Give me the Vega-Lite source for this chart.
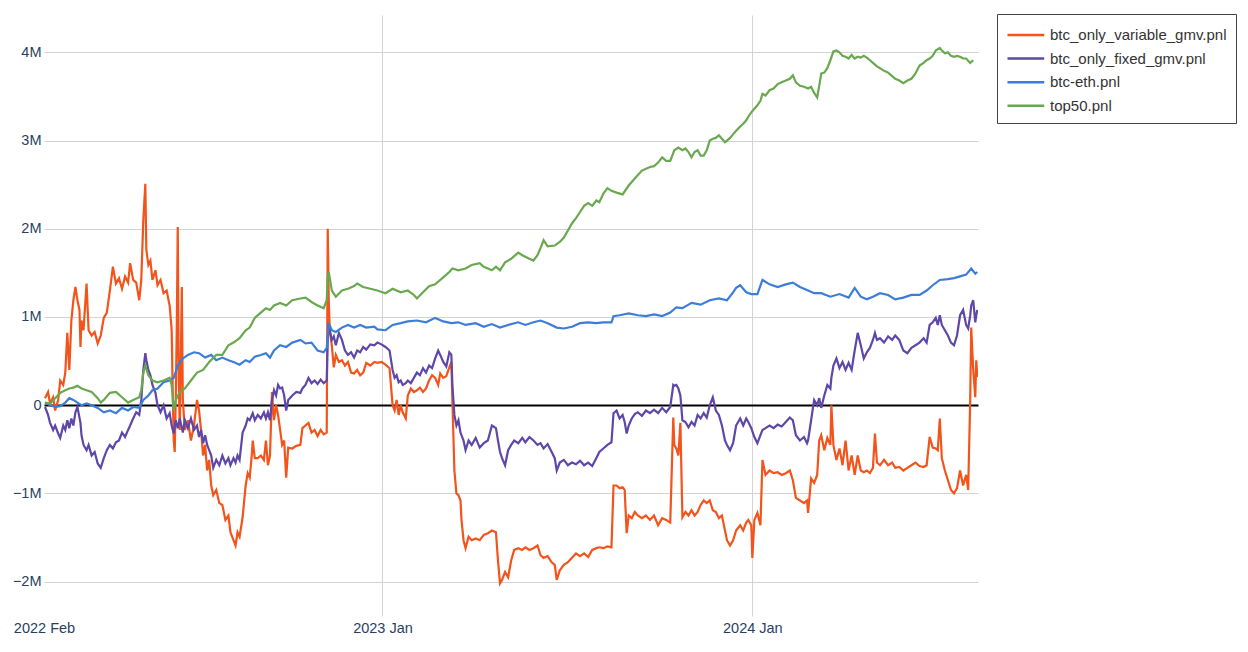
{
  "$schema": "https://vega.github.io/schema/vega-lite/v6.json",
  "width": 934,
  "height": 601,
  "autosize": {"type": "none"},
  "padding": {"left": 44, "top": 15, "right": 270, "bottom": 36},
  "background": "white",
  "config": {
    "view": {"stroke": null},
    "font": "Liberation Sans",
    "legend": {
      "orient": "none",
      "legendX": 953,
      "legendY": -1,
      "strokeColor": "#444444",
      "strokeWidth": 1,
      "fillColor": "white",
      "padding": 9,
      "labelFont": "Liberation Sans",
      "labelFontSize": 15,
      "labelColor": "#333333",
      "labelLimit": 400,
      "symbolType": "M-1,0H2.5",
      "symbolSize": 441,
      "symbolStrokeWidth": 2.5,
      "labelOffset": 20,
      "rowPadding": 3.6
    }
  },
  "encoding": {
    "x": {
      "field": "d",
      "type": "temporal",
      "scale": {"type": "utc", "domain": [1643673600000, 1723308000000]},
      "axis": {
        "title": null,
        "values": [1643673600000, 1672531200000, 1704067200000],
        "format": "%Y %b",
        "labelFont": "Liberation Sans",
        "labelFontSize": 14.5,
        "labelColor": "#2a3f5f",
        "labelFlush": false,
        "labelOverlap": false,
        "labelBound": false,
        "labelPadding": 5,
        "domain": false,
        "ticks": false,
        "grid": true,
        "gridColor": "#d3d3d3",
        "gridWidth": 1,
        "gridOpacity": {"condition": {"test": "utcmonth(datum.value) == 1", "value": 0}, "value": 1}
      }
    },
    "y": {
      "field": "v",
      "type": "quantitative",
      "scale": {"domain": [-2389000, 4423000], "nice": false, "zero": false},
      "axis": {
        "title": null,
        "values": [-2000000, -1000000, 0, 1000000, 2000000, 3000000, 4000000],
        "format": "~s",
        "labelExpr": "datum.value === 0 ? '0' : datum.label",
        "labelFont": "Liberation Sans",
        "labelFontSize": 14.5,
        "labelColor": "#2a3f5f",
        "labelPadding": 3,
        "domain": false,
        "ticks": false,
        "grid": true,
        "gridColor": {"condition": {"test": "datum.value === 0", "value": "#000000"}, "value": "#d3d3d3"},
        "gridWidth": {"condition": {"test": "datum.value === 0", "value": 2}, "value": 1}
      }
    }
  },
  "layer": [
    {
      "data": {"values": [
        {"d":"2022-02-02","v":80000},{"d":"2022-02-05","v":150000},{"d":"2022-02-07","v":20000},{"d":"2022-02-10","v":90000},{"d":"2022-02-12","v":-60000},{"d":"2022-02-15","v":60000},{"d":"2022-02-17","v":280000},{"d":"2022-02-20","v":230000},{"d":"2022-02-22","v":370000},{"d":"2022-02-24","v":820000},{"d":"2022-02-26","v":400000},{"d":"2022-02-28","v":960000},
        {"d":"2022-03-02","v":1190000},{"d":"2022-03-04","v":1340000},{"d":"2022-03-06","v":1190000},{"d":"2022-03-08","v":1080000},{"d":"2022-03-09","v":660000},{"d":"2022-03-10","v":960000},{"d":"2022-03-12","v":850000},{"d":"2022-03-15","v":1380000},{"d":"2022-03-17","v":850000},{"d":"2022-03-20","v":790000},{"d":"2022-03-23","v":830000},{"d":"2022-03-26","v":700000},{"d":"2022-03-29","v":790000},
        {"d":"2022-04-01","v":990000},{"d":"2022-04-04","v":1050000},{"d":"2022-04-07","v":1300000},{"d":"2022-04-10","v":1570000},{"d":"2022-04-13","v":1380000},{"d":"2022-04-16","v":1440000},{"d":"2022-04-19","v":1320000},{"d":"2022-04-22","v":1460000},{"d":"2022-04-25","v":1390000},{"d":"2022-04-27","v":1610000},{"d":"2022-04-30","v":1420000},
        {"d":"2022-05-03","v":1390000},{"d":"2022-05-06","v":1190000},{"d":"2022-05-08","v":1420000},{"d":"2022-05-10","v":2100000},{"d":"2022-05-12","v":2510000},{"d":"2022-05-13","v":1760000},{"d":"2022-05-15","v":1590000},{"d":"2022-05-17","v":1640000},{"d":"2022-05-19","v":1420000},{"d":"2022-05-22","v":1530000},{"d":"2022-05-24","v":1360000},{"d":"2022-05-27","v":1420000},{"d":"2022-05-30","v":1270000},
        {"d":"2022-06-02","v":1300000},{"d":"2022-06-05","v":1130000},{"d":"2022-06-07","v":850000},{"d":"2022-06-08","v":170000},{"d":"2022-06-09","v":-400000},{"d":"2022-06-10","v":-530000},{"d":"2022-06-11","v":60000},{"d":"2022-06-12","v":850000},{"d":"2022-06-13","v":2020000},{"d":"2022-06-14","v":280000},{"d":"2022-06-15","v":-280000},{"d":"2022-06-16","v":510000},{"d":"2022-06-17","v":1340000},{"d":"2022-06-18","v":60000},{"d":"2022-06-20","v":-280000},{"d":"2022-06-23","v":-170000},{"d":"2022-06-26","v":-400000},{"d":"2022-06-29","v":-230000},
        {"d":"2022-07-02","v":60000},{"d":"2022-07-04","v":-60000},{"d":"2022-07-06","v":-280000},{"d":"2022-07-08","v":-570000},{"d":"2022-07-10","v":-450000},{"d":"2022-07-12","v":-740000},{"d":"2022-07-14","v":-620000},{"d":"2022-07-16","v":-910000},{"d":"2022-07-18","v":-1020000},{"d":"2022-07-21","v":-960000},{"d":"2022-07-24","v":-1110000},{"d":"2022-07-27","v":-1130000},{"d":"2022-07-30","v":-1300000},
        {"d":"2022-08-02","v":-1250000},{"d":"2022-08-04","v":-1440000},{"d":"2022-08-07","v":-1530000},{"d":"2022-08-09","v":-1590000},{"d":"2022-08-11","v":-1440000},{"d":"2022-08-13","v":-1490000},{"d":"2022-08-16","v":-1270000},{"d":"2022-08-19","v":-910000},{"d":"2022-08-21","v":-770000},{"d":"2022-08-23","v":-820000},{"d":"2022-08-25","v":-570000},{"d":"2022-08-26","v":-400000},{"d":"2022-08-28","v":-600000},{"d":"2022-08-31","v":-600000},
        {"d":"2022-09-03","v":-570000},{"d":"2022-09-06","v":-620000},{"d":"2022-09-08","v":-400000},{"d":"2022-09-10","v":-680000},{"d":"2022-09-12","v":-570000},{"d":"2022-09-14","v":150000},{"d":"2022-09-16","v":-170000},{"d":"2022-09-18","v":0},{"d":"2022-09-20","v":-110000},{"d":"2022-09-22","v":-280000},{"d":"2022-09-24","v":-450000},{"d":"2022-09-26","v":-400000},{"d":"2022-09-28","v":-820000},{"d":"2022-09-30","v":-480000},
        {"d":"2022-10-04","v":-490000},{"d":"2022-10-08","v":-460000},{"d":"2022-10-12","v":-450000},{"d":"2022-10-14","v":-260000},{"d":"2022-10-17","v":-230000},{"d":"2022-10-20","v":-200000},{"d":"2022-10-23","v":-310000},{"d":"2022-10-26","v":-280000},{"d":"2022-10-29","v":-350000},
        {"d":"2022-11-01","v":-280000},{"d":"2022-11-04","v":-330000},{"d":"2022-11-07","v":-310000},{"d":"2022-11-08","v":2000000},{"d":"2022-11-09","v":1190000},{"d":"2022-11-10","v":850000},{"d":"2022-11-12","v":680000},{"d":"2022-11-14","v":430000},{"d":"2022-11-16","v":570000},{"d":"2022-11-19","v":490000},{"d":"2022-11-22","v":510000},{"d":"2022-11-25","v":450000},{"d":"2022-11-28","v":490000},
        {"d":"2022-12-01","v":370000},{"d":"2022-12-04","v":360000},{"d":"2022-12-07","v":400000},{"d":"2022-12-10","v":340000},{"d":"2022-12-13","v":370000},{"d":"2022-12-16","v":480000},{"d":"2022-12-20","v":450000},{"d":"2022-12-24","v":490000},{"d":"2022-12-27","v":480000},{"d":"2022-12-31","v":490000},
        {"d":"2023-01-04","v":460000},{"d":"2023-01-08","v":420000},{"d":"2023-01-11","v":0},{"d":"2023-01-13","v":-60000},{"d":"2023-01-15","v":60000},{"d":"2023-01-17","v":-110000},{"d":"2023-01-19","v":0},{"d":"2023-01-21","v":-80000},{"d":"2023-01-24","v":-150000},{"d":"2023-01-26","v":110000},{"d":"2023-01-29","v":190000},
        {"d":"2023-02-01","v":150000},{"d":"2023-02-04","v":170000},{"d":"2023-02-07","v":200000},{"d":"2023-02-10","v":150000},{"d":"2023-02-13","v":190000},{"d":"2023-02-16","v":280000},{"d":"2023-02-19","v":340000},{"d":"2023-02-22","v":310000},{"d":"2023-02-25","v":230000},{"d":"2023-02-27","v":360000},
        {"d":"2023-03-02","v":310000},{"d":"2023-03-05","v":330000},{"d":"2023-03-08","v":430000},{"d":"2023-03-10","v":490000},{"d":"2023-03-11","v":60000},{"d":"2023-03-13","v":-740000},{"d":"2023-03-15","v":-1000000},{"d":"2023-03-17","v":-1020000},{"d":"2023-03-19","v":-1080000},{"d":"2023-03-20","v":-1300000},{"d":"2023-03-22","v":-1530000},{"d":"2023-03-24","v":-1620000},{"d":"2023-03-27","v":-1490000},{"d":"2023-03-30","v":-1530000},
        {"d":"2023-04-03","v":-1510000},{"d":"2023-04-07","v":-1530000},{"d":"2023-04-11","v":-1470000},{"d":"2023-04-15","v":-1450000},{"d":"2023-04-19","v":-1420000},{"d":"2023-04-23","v":-1440000},{"d":"2023-04-25","v":-1760000},{"d":"2023-04-27","v":-2020000},{"d":"2023-04-29","v":-1980000},
        {"d":"2023-05-02","v":-1890000},{"d":"2023-05-05","v":-1950000},{"d":"2023-05-08","v":-1760000},{"d":"2023-05-11","v":-1640000},{"d":"2023-05-15","v":-1620000},{"d":"2023-05-19","v":-1640000},{"d":"2023-05-22","v":-1610000},{"d":"2023-05-26","v":-1640000},{"d":"2023-05-30","v":-1620000},
        {"d":"2023-06-03","v":-1590000},{"d":"2023-06-06","v":-1700000},{"d":"2023-06-09","v":-1730000},{"d":"2023-06-13","v":-1710000},{"d":"2023-06-17","v":-1780000},{"d":"2023-06-20","v":-1810000},{"d":"2023-06-22","v":-1980000},{"d":"2023-06-25","v":-1870000},{"d":"2023-06-29","v":-1810000},
        {"d":"2023-07-03","v":-1780000},{"d":"2023-07-07","v":-1730000},{"d":"2023-07-11","v":-1680000},{"d":"2023-07-15","v":-1710000},{"d":"2023-07-19","v":-1680000},{"d":"2023-07-23","v":-1720000},{"d":"2023-07-27","v":-1640000},{"d":"2023-07-31","v":-1620000},
        {"d":"2023-08-03","v":-1610000},{"d":"2023-08-07","v":-1620000},{"d":"2023-08-11","v":-1600000},{"d":"2023-08-15","v":-1610000},{"d":"2023-08-17","v":-910000},{"d":"2023-08-20","v":-910000},{"d":"2023-08-23","v":-940000},{"d":"2023-08-26","v":-930000},{"d":"2023-08-28","v":-960000},{"d":"2023-08-30","v":-1450000},
        {"d":"2023-09-01","v":-1250000},{"d":"2023-09-04","v":-1280000},{"d":"2023-09-07","v":-1210000},{"d":"2023-09-10","v":-1250000},{"d":"2023-09-14","v":-1280000},{"d":"2023-09-18","v":-1250000},{"d":"2023-09-22","v":-1300000},{"d":"2023-09-26","v":-1250000},{"d":"2023-09-30","v":-1360000},
        {"d":"2023-10-04","v":-1280000},{"d":"2023-10-08","v":-1300000},{"d":"2023-10-12","v":-1330000},{"d":"2023-10-15","v":-140000},{"d":"2023-10-16","v":-450000},{"d":"2023-10-18","v":-490000},{"d":"2023-10-20","v":-570000},{"d":"2023-10-22","v":-200000},{"d":"2023-10-24","v":-1270000},{"d":"2023-10-27","v":-1210000},{"d":"2023-10-30","v":-1250000},
        {"d":"2023-11-02","v":-1190000},{"d":"2023-11-05","v":-1250000},{"d":"2023-11-08","v":-1210000},{"d":"2023-11-11","v":-1130000},{"d":"2023-11-14","v":-1080000},{"d":"2023-11-17","v":-1110000},{"d":"2023-11-20","v":-1080000},{"d":"2023-11-23","v":-1190000},{"d":"2023-11-26","v":-1210000},{"d":"2023-11-29","v":-1280000},
        {"d":"2023-12-02","v":-1250000},{"d":"2023-12-05","v":-1420000},{"d":"2023-12-07","v":-1530000},{"d":"2023-12-10","v":-1590000},{"d":"2023-12-13","v":-1530000},{"d":"2023-12-16","v":-1420000},{"d":"2023-12-20","v":-1360000},{"d":"2023-12-23","v":-1420000},{"d":"2023-12-26","v":-1330000},{"d":"2023-12-28","v":-1300000},{"d":"2023-12-31","v":-1360000},
        {"d":"2024-01-01","v":-1730000},{"d":"2024-01-03","v":-1300000},{"d":"2024-01-06","v":-1220000},{"d":"2024-01-09","v":-1360000},{"d":"2024-01-11","v":-620000},{"d":"2024-01-14","v":-790000},{"d":"2024-01-18","v":-740000},{"d":"2024-01-22","v":-770000},{"d":"2024-01-26","v":-760000},{"d":"2024-01-30","v":-790000},
        {"d":"2024-02-03","v":-770000},{"d":"2024-02-07","v":-740000},{"d":"2024-02-10","v":-850000},{"d":"2024-02-13","v":-1050000},{"d":"2024-02-17","v":-1080000},{"d":"2024-02-21","v":-1110000},{"d":"2024-02-24","v":-1080000},{"d":"2024-02-25","v":-1220000},{"d":"2024-02-28","v":-830000},
        {"d":"2024-03-02","v":-880000},{"d":"2024-03-05","v":-790000},{"d":"2024-03-07","v":-400000},{"d":"2024-03-09","v":-340000},{"d":"2024-03-12","v":-510000},{"d":"2024-03-15","v":-370000},{"d":"2024-03-18","v":-450000},{"d":"2024-03-19","v":0},{"d":"2024-03-21","v":-450000},{"d":"2024-03-24","v":-620000},{"d":"2024-03-27","v":-490000},{"d":"2024-03-30","v":-680000},
        {"d":"2024-04-02","v":-400000},{"d":"2024-04-05","v":-740000},{"d":"2024-04-08","v":-570000},{"d":"2024-04-11","v":-790000},{"d":"2024-04-14","v":-570000},{"d":"2024-04-17","v":-740000},{"d":"2024-04-20","v":-760000},{"d":"2024-04-23","v":-740000},{"d":"2024-04-26","v":-770000},{"d":"2024-04-29","v":-710000},
        {"d":"2024-05-01","v":-320000},{"d":"2024-05-03","v":-650000},{"d":"2024-05-06","v":-680000},{"d":"2024-05-10","v":-620000},{"d":"2024-05-14","v":-680000},{"d":"2024-05-18","v":-650000},{"d":"2024-05-21","v":-710000},{"d":"2024-05-25","v":-700000},{"d":"2024-05-29","v":-740000},
        {"d":"2024-06-02","v":-710000},{"d":"2024-06-06","v":-680000},{"d":"2024-06-10","v":-650000},{"d":"2024-06-14","v":-690000},{"d":"2024-06-18","v":-700000},{"d":"2024-06-21","v":-680000},{"d":"2024-06-24","v":-360000},{"d":"2024-06-27","v":-480000},{"d":"2024-06-30","v":-490000},
        {"d":"2024-07-02","v":-510000},{"d":"2024-07-04","v":-150000},{"d":"2024-07-06","v":-600000},{"d":"2024-07-09","v":-740000},{"d":"2024-07-12","v":-850000},{"d":"2024-07-15","v":-960000},{"d":"2024-07-18","v":-1000000},{"d":"2024-07-21","v":-940000},{"d":"2024-07-24","v":-740000},{"d":"2024-07-27","v":-910000},{"d":"2024-07-30","v":-790000},
        {"d":"2024-08-01","v":-960000},{"d":"2024-08-03","v":60000},{"d":"2024-08-04","v":880000},{"d":"2024-08-06","v":400000},{"d":"2024-08-08","v":90000},{"d":"2024-08-09","v":510000},{"d":"2024-08-10","v":320000}
      ]},
      "mark": {"type": "line", "strokeWidth": 2.2, "clip": true},
      "encoding": {
        "color": {
          "datum": "btc_only_variable_gmv.pnl",
          "title": null,
          "scale": {"domain": ["btc_only_variable_gmv.pnl", "btc_only_fixed_gmv.pnl", "btc-eth.pnl", "top50.pnl"], "range": ["#F2541B", "#5E47A8", "#3B7DD8", "#6AA84F"]}
        }
      }
    },
    {
      "data": {"values": [
        {"d":"2022-02-02","v":-20000},{"d":"2022-02-05","v":-110000},{"d":"2022-02-07","v":-200000},{"d":"2022-02-10","v":-280000},{"d":"2022-02-12","v":-230000},{"d":"2022-02-15","v":-320000},{"d":"2022-02-17","v":-370000},{"d":"2022-02-20","v":-230000},{"d":"2022-02-22","v":-280000},{"d":"2022-02-24","v":-170000},{"d":"2022-02-26","v":-260000},{"d":"2022-02-28","v":-150000},
        {"d":"2022-03-02","v":-230000},{"d":"2022-03-04","v":-80000},{"d":"2022-03-06","v":-20000},{"d":"2022-03-09","v":-200000},{"d":"2022-03-10","v":-340000},{"d":"2022-03-12","v":-450000},{"d":"2022-03-15","v":-510000},{"d":"2022-03-17","v":-450000},{"d":"2022-03-20","v":-570000},{"d":"2022-03-23","v":-530000},{"d":"2022-03-26","v":-660000},{"d":"2022-03-29","v":-710000},
        {"d":"2022-04-01","v":-600000},{"d":"2022-04-04","v":-510000},{"d":"2022-04-07","v":-450000},{"d":"2022-04-10","v":-490000},{"d":"2022-04-13","v":-420000},{"d":"2022-04-16","v":-400000},{"d":"2022-04-19","v":-310000},{"d":"2022-04-22","v":-360000},{"d":"2022-04-25","v":-280000},{"d":"2022-04-27","v":-230000},{"d":"2022-04-30","v":-150000},
        {"d":"2022-05-03","v":-80000},{"d":"2022-05-06","v":-110000},{"d":"2022-05-08","v":60000},{"d":"2022-05-10","v":400000},{"d":"2022-05-12","v":590000},{"d":"2022-05-13","v":510000},{"d":"2022-05-15","v":400000},{"d":"2022-05-17","v":340000},{"d":"2022-05-19","v":230000},{"d":"2022-05-22","v":140000},{"d":"2022-05-24","v":0},{"d":"2022-05-27","v":-80000},{"d":"2022-05-30","v":0},
        {"d":"2022-06-02","v":-150000},{"d":"2022-06-05","v":-90000},{"d":"2022-06-07","v":-230000},{"d":"2022-06-09","v":-320000},{"d":"2022-06-11","v":-170000},{"d":"2022-06-13","v":-260000},{"d":"2022-06-15","v":-150000},{"d":"2022-06-18","v":-310000},{"d":"2022-06-20","v":-170000},{"d":"2022-06-23","v":-260000},{"d":"2022-06-26","v":-150000},{"d":"2022-06-29","v":-280000},
        {"d":"2022-07-02","v":-230000},{"d":"2022-07-04","v":-360000},{"d":"2022-07-06","v":-280000},{"d":"2022-07-08","v":-430000},{"d":"2022-07-10","v":-340000},{"d":"2022-07-12","v":-450000},{"d":"2022-07-14","v":-510000},{"d":"2022-07-16","v":-570000},{"d":"2022-07-18","v":-710000},{"d":"2022-07-21","v":-620000},{"d":"2022-07-24","v":-680000},{"d":"2022-07-27","v":-570000},{"d":"2022-07-30","v":-660000},
        {"d":"2022-08-02","v":-600000},{"d":"2022-08-04","v":-680000},{"d":"2022-08-07","v":-600000},{"d":"2022-08-09","v":-650000},{"d":"2022-08-11","v":-570000},{"d":"2022-08-13","v":-620000},{"d":"2022-08-16","v":-310000},{"d":"2022-08-19","v":-230000},{"d":"2022-08-21","v":-150000},{"d":"2022-08-23","v":-170000},{"d":"2022-08-26","v":-90000},{"d":"2022-08-28","v":-170000},{"d":"2022-08-31","v":-110000},
        {"d":"2022-09-03","v":-150000},{"d":"2022-09-06","v":-80000},{"d":"2022-09-08","v":-150000},{"d":"2022-09-10","v":-80000},{"d":"2022-09-12","v":-170000},{"d":"2022-09-14","v":60000},{"d":"2022-09-16","v":170000},{"d":"2022-09-18","v":110000},{"d":"2022-09-20","v":230000},{"d":"2022-09-22","v":190000},{"d":"2022-09-24","v":200000},{"d":"2022-09-26","v":110000},{"d":"2022-09-28","v":-60000},{"d":"2022-09-30","v":60000},
        {"d":"2022-10-04","v":110000},{"d":"2022-10-08","v":150000},{"d":"2022-10-12","v":140000},{"d":"2022-10-14","v":190000},{"d":"2022-10-17","v":230000},{"d":"2022-10-20","v":310000},{"d":"2022-10-23","v":250000},{"d":"2022-10-26","v":280000},{"d":"2022-10-29","v":240000},
        {"d":"2022-11-01","v":290000},{"d":"2022-11-04","v":250000},{"d":"2022-11-07","v":280000},{"d":"2022-11-08","v":740000},{"d":"2022-11-09","v":930000},{"d":"2022-11-10","v":850000},{"d":"2022-11-12","v":740000},{"d":"2022-11-14","v":780000},{"d":"2022-11-16","v":680000},{"d":"2022-11-19","v":820000},{"d":"2022-11-22","v":740000},{"d":"2022-11-25","v":620000},{"d":"2022-11-28","v":570000},
        {"d":"2022-12-01","v":600000},{"d":"2022-12-04","v":540000},{"d":"2022-12-07","v":620000},{"d":"2022-12-10","v":600000},{"d":"2022-12-13","v":660000},{"d":"2022-12-16","v":630000},{"d":"2022-12-20","v":690000},{"d":"2022-12-24","v":680000},{"d":"2022-12-27","v":710000},{"d":"2022-12-31","v":690000},
        {"d":"2023-01-04","v":660000},{"d":"2023-01-08","v":620000},{"d":"2023-01-11","v":400000},{"d":"2023-01-13","v":310000},{"d":"2023-01-15","v":340000},{"d":"2023-01-17","v":260000},{"d":"2023-01-19","v":280000},{"d":"2023-01-21","v":230000},{"d":"2023-01-24","v":250000},{"d":"2023-01-26","v":280000},{"d":"2023-01-29","v":250000},
        {"d":"2023-02-01","v":310000},{"d":"2023-02-04","v":370000},{"d":"2023-02-07","v":340000},{"d":"2023-02-10","v":420000},{"d":"2023-02-13","v":370000},{"d":"2023-02-16","v":450000},{"d":"2023-02-19","v":420000},{"d":"2023-02-22","v":530000},{"d":"2023-02-25","v":620000},{"d":"2023-02-27","v":570000},
        {"d":"2023-03-02","v":490000},{"d":"2023-03-05","v":440000},{"d":"2023-03-08","v":600000},{"d":"2023-03-10","v":570000},{"d":"2023-03-11","v":230000},{"d":"2023-03-13","v":-110000},{"d":"2023-03-15","v":-230000},{"d":"2023-03-17","v":-170000},{"d":"2023-03-19","v":-310000},{"d":"2023-03-22","v":-400000},{"d":"2023-03-24","v":-510000},{"d":"2023-03-27","v":-400000},{"d":"2023-03-30","v":-450000},
        {"d":"2023-04-03","v":-370000},{"d":"2023-04-07","v":-480000},{"d":"2023-04-11","v":-430000},{"d":"2023-04-15","v":-400000},{"d":"2023-04-19","v":-230000},{"d":"2023-04-23","v":-260000},{"d":"2023-04-25","v":-400000},{"d":"2023-04-27","v":-530000},{"d":"2023-04-29","v":-600000},
        {"d":"2023-05-02","v":-680000},{"d":"2023-05-05","v":-510000},{"d":"2023-05-08","v":-450000},{"d":"2023-05-11","v":-400000},{"d":"2023-05-15","v":-430000},{"d":"2023-05-19","v":-370000},{"d":"2023-05-22","v":-420000},{"d":"2023-05-26","v":-360000},{"d":"2023-05-30","v":-400000},
        {"d":"2023-06-03","v":-450000},{"d":"2023-06-06","v":-430000},{"d":"2023-06-09","v":-490000},{"d":"2023-06-13","v":-440000},{"d":"2023-06-17","v":-530000},{"d":"2023-06-20","v":-600000},{"d":"2023-06-22","v":-740000},{"d":"2023-06-25","v":-650000},{"d":"2023-06-29","v":-620000},
        {"d":"2023-07-03","v":-680000},{"d":"2023-07-07","v":-650000},{"d":"2023-07-11","v":-670000},{"d":"2023-07-15","v":-630000},{"d":"2023-07-19","v":-680000},{"d":"2023-07-23","v":-650000},{"d":"2023-07-27","v":-690000},{"d":"2023-07-31","v":-600000},
        {"d":"2023-08-03","v":-530000},{"d":"2023-08-07","v":-490000},{"d":"2023-08-11","v":-450000},{"d":"2023-08-15","v":-420000},{"d":"2023-08-17","v":-90000},{"d":"2023-08-20","v":-60000},{"d":"2023-08-23","v":-150000},{"d":"2023-08-26","v":-110000},{"d":"2023-08-28","v":-190000},{"d":"2023-08-30","v":-320000},
        {"d":"2023-09-01","v":-230000},{"d":"2023-09-04","v":-150000},{"d":"2023-09-07","v":-100000},{"d":"2023-09-10","v":-80000},{"d":"2023-09-14","v":-120000},{"d":"2023-09-18","v":-60000},{"d":"2023-09-22","v":-90000},{"d":"2023-09-26","v":-50000},{"d":"2023-09-30","v":-90000},
        {"d":"2023-10-04","v":-30000},{"d":"2023-10-08","v":-80000},{"d":"2023-10-12","v":-20000},{"d":"2023-10-15","v":230000},{"d":"2023-10-16","v":220000},{"d":"2023-10-18","v":230000},{"d":"2023-10-20","v":190000},{"d":"2023-10-22","v":110000},{"d":"2023-10-24","v":-170000},{"d":"2023-10-27","v":-190000},{"d":"2023-10-30","v":-250000},
        {"d":"2023-11-02","v":-190000},{"d":"2023-11-05","v":-230000},{"d":"2023-11-08","v":-110000},{"d":"2023-11-11","v":-150000},{"d":"2023-11-14","v":-90000},{"d":"2023-11-17","v":-140000},{"d":"2023-11-20","v":0},{"d":"2023-11-23","v":90000},{"d":"2023-11-26","v":-60000},{"d":"2023-11-29","v":-110000},
        {"d":"2023-12-02","v":-230000},{"d":"2023-12-05","v":-400000},{"d":"2023-12-07","v":-450000},{"d":"2023-12-10","v":-510000},{"d":"2023-12-13","v":-430000},{"d":"2023-12-16","v":-230000},{"d":"2023-12-20","v":-150000},{"d":"2023-12-23","v":-230000},{"d":"2023-12-26","v":-150000},{"d":"2023-12-28","v":-190000},{"d":"2023-12-31","v":-260000},
        {"d":"2024-01-03","v":-360000},{"d":"2024-01-06","v":-430000},{"d":"2024-01-09","v":-340000},{"d":"2024-01-11","v":-280000},{"d":"2024-01-14","v":-260000},{"d":"2024-01-18","v":-230000},{"d":"2024-01-22","v":-260000},{"d":"2024-01-26","v":-220000},{"d":"2024-01-30","v":-240000},
        {"d":"2024-02-03","v":-190000},{"d":"2024-02-07","v":-140000},{"d":"2024-02-10","v":-170000},{"d":"2024-02-13","v":-340000},{"d":"2024-02-17","v":-400000},{"d":"2024-02-21","v":-360000},{"d":"2024-02-24","v":-430000},{"d":"2024-02-25","v":-400000},{"d":"2024-02-28","v":-170000},
        {"d":"2024-03-02","v":60000},{"d":"2024-03-05","v":0},{"d":"2024-03-07","v":80000},{"d":"2024-03-09","v":-30000},{"d":"2024-03-12","v":110000},{"d":"2024-03-15","v":230000},{"d":"2024-03-18","v":190000},{"d":"2024-03-19","v":310000},{"d":"2024-03-21","v":450000},{"d":"2024-03-24","v":530000},{"d":"2024-03-27","v":420000},{"d":"2024-03-30","v":490000},
        {"d":"2024-04-02","v":400000},{"d":"2024-04-05","v":480000},{"d":"2024-04-08","v":400000},{"d":"2024-04-11","v":620000},{"d":"2024-04-14","v":820000},{"d":"2024-04-17","v":680000},{"d":"2024-04-20","v":530000},{"d":"2024-04-23","v":600000},{"d":"2024-04-26","v":650000},{"d":"2024-04-29","v":740000},
        {"d":"2024-05-01","v":820000},{"d":"2024-05-03","v":740000},{"d":"2024-05-06","v":760000},{"d":"2024-05-10","v":710000},{"d":"2024-05-14","v":780000},{"d":"2024-05-18","v":740000},{"d":"2024-05-21","v":790000},{"d":"2024-05-25","v":740000},{"d":"2024-05-29","v":620000},
        {"d":"2024-06-02","v":590000},{"d":"2024-06-06","v":650000},{"d":"2024-06-10","v":680000},{"d":"2024-06-14","v":710000},{"d":"2024-06-18","v":760000},{"d":"2024-06-21","v":710000},{"d":"2024-06-24","v":910000},{"d":"2024-06-27","v":940000},{"d":"2024-06-30","v":990000},
        {"d":"2024-07-02","v":910000},{"d":"2024-07-04","v":1020000},{"d":"2024-07-06","v":910000},{"d":"2024-07-09","v":850000},{"d":"2024-07-12","v":790000},{"d":"2024-07-15","v":710000},{"d":"2024-07-18","v":680000},{"d":"2024-07-21","v":790000},{"d":"2024-07-24","v":1020000},{"d":"2024-07-27","v":1080000},{"d":"2024-07-30","v":910000},
        {"d":"2024-08-01","v":870000},{"d":"2024-08-03","v":1020000},{"d":"2024-08-04","v":1130000},{"d":"2024-08-06","v":1190000},{"d":"2024-08-08","v":940000},{"d":"2024-08-09","v":1020000},{"d":"2024-08-10","v":1080000}
      ]},
      "mark": {"type": "line", "strokeWidth": 2.2, "clip": true},
      "encoding": {
        "color": {
          "datum": "btc_only_fixed_gmv.pnl",
          "title": null,
          "scale": {"domain": ["btc_only_variable_gmv.pnl", "btc_only_fixed_gmv.pnl", "btc-eth.pnl", "top50.pnl"], "range": ["#F2541B", "#5E47A8", "#3B7DD8", "#6AA84F"]}
        }
      }
    },
    {
      "data": {"values": [
        {"d":"2022-02-02","v":30000},{"d":"2022-02-07","v":0},{"d":"2022-02-12","v":-20000},{"d":"2022-02-17","v":-10000},{"d":"2022-02-22","v":30000},{"d":"2022-02-26","v":80000},{"d":"2022-03-02","v":60000},{"d":"2022-03-06","v":30000},{"d":"2022-03-10","v":0},{"d":"2022-03-15","v":20000},{"d":"2022-03-20","v":0},{"d":"2022-03-26","v":-30000},
        {"d":"2022-04-01","v":-80000},{"d":"2022-04-07","v":-60000},{"d":"2022-04-13","v":-90000},{"d":"2022-04-19","v":-30000},{"d":"2022-04-25","v":-60000},{"d":"2022-04-30","v":-20000},{"d":"2022-05-06","v":-30000},{"d":"2022-05-10","v":60000},{"d":"2022-05-15","v":110000},{"d":"2022-05-19","v":170000},{"d":"2022-05-24","v":190000},{"d":"2022-05-30","v":260000},
        {"d":"2022-06-05","v":280000},{"d":"2022-06-09","v":310000},{"d":"2022-06-13","v":450000},{"d":"2022-06-18","v":530000},{"d":"2022-06-23","v":570000},{"d":"2022-06-29","v":600000},{"d":"2022-07-04","v":590000},{"d":"2022-07-10","v":540000},{"d":"2022-07-16","v":570000},{"d":"2022-07-21","v":510000},{"d":"2022-07-27","v":540000},
        {"d":"2022-08-02","v":510000},{"d":"2022-08-07","v":490000},{"d":"2022-08-13","v":460000},{"d":"2022-08-19","v":510000},{"d":"2022-08-23","v":490000},{"d":"2022-08-28","v":550000},{"d":"2022-09-03","v":570000},{"d":"2022-09-08","v":590000},{"d":"2022-09-12","v":540000},{"d":"2022-09-16","v":620000},{"d":"2022-09-22","v":680000},{"d":"2022-09-28","v":660000},
        {"d":"2022-10-04","v":710000},{"d":"2022-10-12","v":740000},{"d":"2022-10-17","v":700000},{"d":"2022-10-23","v":710000},{"d":"2022-10-29","v":620000},{"d":"2022-11-04","v":600000},{"d":"2022-11-07","v":650000},{"d":"2022-11-09","v":930000},{"d":"2022-11-12","v":850000},{"d":"2022-11-16","v":830000},{"d":"2022-11-22","v":880000},{"d":"2022-11-28","v":910000},
        {"d":"2022-12-04","v":880000},{"d":"2022-12-10","v":910000},{"d":"2022-12-16","v":880000},{"d":"2022-12-24","v":890000},{"d":"2022-12-27","v":860000},{"d":"2023-01-04","v":850000},{"d":"2023-01-11","v":910000},{"d":"2023-01-19","v":930000},{"d":"2023-01-26","v":950000},{"d":"2023-02-04","v":960000},{"d":"2023-02-13","v":940000},{"d":"2023-02-22","v":990000},
        {"d":"2023-03-02","v":950000},{"d":"2023-03-10","v":930000},{"d":"2023-03-17","v":940000},{"d":"2023-03-24","v":910000},{"d":"2023-04-03","v":930000},{"d":"2023-04-11","v":890000},{"d":"2023-04-19","v":920000},{"d":"2023-04-27","v":880000},{"d":"2023-05-05","v":910000},{"d":"2023-05-15","v":940000},{"d":"2023-05-22","v":910000},{"d":"2023-05-30","v":940000},
        {"d":"2023-06-06","v":960000},{"d":"2023-06-13","v":930000},{"d":"2023-06-22","v":880000},{"d":"2023-06-29","v":870000},{"d":"2023-07-07","v":890000},{"d":"2023-07-15","v":930000},{"d":"2023-07-23","v":940000},{"d":"2023-07-31","v":930000},{"d":"2023-08-07","v":940000},{"d":"2023-08-15","v":940000},{"d":"2023-08-17","v":1010000},{"d":"2023-08-23","v":1020000},
        {"d":"2023-09-01","v":1040000},{"d":"2023-09-10","v":1020000},{"d":"2023-09-18","v":1010000},{"d":"2023-09-26","v":1030000},{"d":"2023-10-04","v":1010000},{"d":"2023-10-12","v":1050000},{"d":"2023-10-18","v":1110000},{"d":"2023-10-24","v":1100000},{"d":"2023-11-02","v":1160000},{"d":"2023-11-11","v":1140000},{"d":"2023-11-20","v":1190000},{"d":"2023-11-29","v":1210000},
        {"d":"2023-12-07","v":1190000},{"d":"2023-12-13","v":1280000},{"d":"2023-12-16","v":1330000},{"d":"2023-12-20","v":1360000},{"d":"2023-12-26","v":1280000},{"d":"2023-12-31","v":1260000},{"d":"2024-01-06","v":1260000},{"d":"2024-01-11","v":1420000},{"d":"2024-01-18","v":1370000},{"d":"2024-01-26","v":1340000},
        {"d":"2024-02-03","v":1370000},{"d":"2024-02-10","v":1390000},{"d":"2024-02-17","v":1340000},{"d":"2024-02-25","v":1300000},{"d":"2024-03-02","v":1270000},{"d":"2024-03-09","v":1270000},{"d":"2024-03-18","v":1230000},{"d":"2024-03-27","v":1260000},{"d":"2024-04-05","v":1220000},{"d":"2024-04-11","v":1330000},{"d":"2024-04-17","v":1230000},{"d":"2024-04-23","v":1200000},{"d":"2024-04-29","v":1230000},
        {"d":"2024-05-06","v":1270000},{"d":"2024-05-14","v":1250000},{"d":"2024-05-21","v":1200000},{"d":"2024-05-29","v":1220000},{"d":"2024-06-06","v":1250000},{"d":"2024-06-14","v":1250000},{"d":"2024-06-21","v":1300000},{"d":"2024-06-27","v":1360000},{"d":"2024-07-04","v":1420000},{"d":"2024-07-12","v":1430000},{"d":"2024-07-18","v":1440000},{"d":"2024-07-24","v":1460000},{"d":"2024-07-30","v":1480000},
        {"d":"2024-08-04","v":1550000},{"d":"2024-08-08","v":1490000},{"d":"2024-08-10","v":1510000}
      ]},
      "mark": {"type": "line", "strokeWidth": 2.2, "clip": true},
      "encoding": {
        "color": {
          "datum": "btc-eth.pnl",
          "title": null,
          "scale": {"domain": ["btc_only_variable_gmv.pnl", "btc_only_fixed_gmv.pnl", "btc-eth.pnl", "top50.pnl"], "range": ["#F2541B", "#5E47A8", "#3B7DD8", "#6AA84F"]}
        }
      }
    },
    {
      "data": {"values": [
        {"d":"2022-02-02","v":30000},{"d":"2022-02-07","v":20000},{"d":"2022-02-12","v":80000},{"d":"2022-02-17","v":140000},{"d":"2022-02-22","v":170000},{"d":"2022-02-26","v":190000},{"d":"2022-03-02","v":200000},{"d":"2022-03-06","v":220000},{"d":"2022-03-10","v":190000},{"d":"2022-03-15","v":170000},{"d":"2022-03-20","v":150000},{"d":"2022-03-26","v":80000},{"d":"2022-03-29","v":30000},
        {"d":"2022-04-01","v":60000},{"d":"2022-04-07","v":140000},{"d":"2022-04-13","v":150000},{"d":"2022-04-19","v":90000},{"d":"2022-04-25","v":30000},{"d":"2022-04-30","v":60000},{"d":"2022-05-06","v":90000},{"d":"2022-05-08","v":170000},{"d":"2022-05-10","v":370000},{"d":"2022-05-12","v":450000},{"d":"2022-05-15","v":340000},{"d":"2022-05-19","v":280000},{"d":"2022-05-24","v":260000},{"d":"2022-05-30","v":280000},
        {"d":"2022-06-05","v":310000},{"d":"2022-06-07","v":230000},{"d":"2022-06-09","v":-60000},{"d":"2022-06-11","v":60000},{"d":"2022-06-15","v":150000},{"d":"2022-06-20","v":190000},{"d":"2022-06-26","v":280000},{"d":"2022-07-02","v":370000},{"d":"2022-07-08","v":400000},{"d":"2022-07-14","v":490000},{"d":"2022-07-21","v":570000},{"d":"2022-07-27","v":570000},
        {"d":"2022-08-02","v":680000},{"d":"2022-08-07","v":710000},{"d":"2022-08-13","v":760000},{"d":"2022-08-19","v":850000},{"d":"2022-08-23","v":880000},{"d":"2022-08-28","v":990000},{"d":"2022-09-03","v":1050000},{"d":"2022-09-08","v":1100000},{"d":"2022-09-12","v":1080000},{"d":"2022-09-16","v":1130000},{"d":"2022-09-22","v":1160000},{"d":"2022-09-28","v":1130000},
        {"d":"2022-10-04","v":1190000},{"d":"2022-10-12","v":1210000},{"d":"2022-10-17","v":1220000},{"d":"2022-10-23","v":1170000},{"d":"2022-10-29","v":1130000},{"d":"2022-11-04","v":1100000},{"d":"2022-11-07","v":1190000},{"d":"2022-11-08","v":1470000},{"d":"2022-11-09","v":1510000},{"d":"2022-11-12","v":1300000},{"d":"2022-11-16","v":1230000},{"d":"2022-11-22","v":1300000},{"d":"2022-11-28","v":1320000},
        {"d":"2022-12-04","v":1350000},{"d":"2022-12-07","v":1380000},{"d":"2022-12-13","v":1340000},{"d":"2022-12-20","v":1320000},{"d":"2022-12-27","v":1300000},{"d":"2023-01-04","v":1270000},{"d":"2023-01-11","v":1320000},{"d":"2023-01-19","v":1280000},{"d":"2023-01-26","v":1300000},
        {"d":"2023-02-01","v":1250000},{"d":"2023-02-04","v":1210000},{"d":"2023-02-10","v":1280000},{"d":"2023-02-16","v":1350000},{"d":"2023-02-22","v":1370000},{"d":"2023-03-02","v":1450000},{"d":"2023-03-08","v":1510000},{"d":"2023-03-11","v":1550000},{"d":"2023-03-17","v":1530000},{"d":"2023-03-24","v":1550000},{"d":"2023-03-30","v":1590000},
        {"d":"2023-04-07","v":1610000},{"d":"2023-04-11","v":1570000},{"d":"2023-04-15","v":1550000},{"d":"2023-04-19","v":1530000},{"d":"2023-04-23","v":1570000},{"d":"2023-04-27","v":1530000},{"d":"2023-05-02","v":1620000},{"d":"2023-05-08","v":1660000},{"d":"2023-05-15","v":1730000},{"d":"2023-05-19","v":1700000},{"d":"2023-05-26","v":1660000},{"d":"2023-05-30","v":1640000},
        {"d":"2023-06-03","v":1700000},{"d":"2023-06-06","v":1780000},{"d":"2023-06-09","v":1870000},{"d":"2023-06-13","v":1800000},{"d":"2023-06-20","v":1810000},{"d":"2023-06-25","v":1850000},{"d":"2023-06-29","v":1900000},{"d":"2023-07-03","v":1980000},{"d":"2023-07-07","v":2060000},{"d":"2023-07-11","v":2120000},{"d":"2023-07-15","v":2190000},{"d":"2023-07-19","v":2260000},{"d":"2023-07-23","v":2290000},{"d":"2023-07-27","v":2260000},{"d":"2023-07-31","v":2320000},
        {"d":"2023-08-03","v":2300000},{"d":"2023-08-07","v":2400000},{"d":"2023-08-11","v":2460000},{"d":"2023-08-15","v":2430000},{"d":"2023-08-20","v":2410000},{"d":"2023-08-26","v":2390000},{"d":"2023-09-01","v":2490000},{"d":"2023-09-07","v":2570000},{"d":"2023-09-14","v":2660000},{"d":"2023-09-22","v":2700000},{"d":"2023-09-26","v":2710000},{"d":"2023-09-30","v":2750000},
        {"d":"2023-10-04","v":2810000},{"d":"2023-10-08","v":2770000},{"d":"2023-10-12","v":2770000},{"d":"2023-10-16","v":2890000},{"d":"2023-10-20","v":2920000},{"d":"2023-10-24","v":2890000},{"d":"2023-10-27","v":2910000},{"d":"2023-10-30","v":2870000},{"d":"2023-11-02","v":2810000},{"d":"2023-11-05","v":2870000},{"d":"2023-11-08","v":2890000},{"d":"2023-11-11","v":2830000},{"d":"2023-11-14","v":2830000},{"d":"2023-11-17","v":2890000},{"d":"2023-11-20","v":3000000},{"d":"2023-11-23","v":3020000},{"d":"2023-11-26","v":3030000},{"d":"2023-11-29","v":3060000},
        {"d":"2023-12-02","v":3020000},{"d":"2023-12-05","v":2980000},{"d":"2023-12-07","v":3000000},{"d":"2023-12-10","v":3030000},{"d":"2023-12-13","v":3070000},{"d":"2023-12-16","v":3110000},{"d":"2023-12-20","v":3160000},{"d":"2023-12-23","v":3190000},{"d":"2023-12-26","v":3230000},{"d":"2023-12-28","v":3270000},{"d":"2023-12-31","v":3320000},
        {"d":"2024-01-03","v":3360000},{"d":"2024-01-06","v":3400000},{"d":"2024-01-09","v":3450000},{"d":"2024-01-11","v":3530000},{"d":"2024-01-14","v":3510000},{"d":"2024-01-18","v":3570000},{"d":"2024-01-22","v":3590000},{"d":"2024-01-26","v":3640000},{"d":"2024-01-30","v":3660000},
        {"d":"2024-02-03","v":3680000},{"d":"2024-02-07","v":3700000},{"d":"2024-02-10","v":3740000},{"d":"2024-02-13","v":3660000},{"d":"2024-02-17","v":3620000},{"d":"2024-02-21","v":3610000},{"d":"2024-02-25","v":3590000},{"d":"2024-02-28","v":3610000},
        {"d":"2024-03-02","v":3540000},{"d":"2024-03-05","v":3490000},{"d":"2024-03-07","v":3620000},{"d":"2024-03-09","v":3760000},{"d":"2024-03-12","v":3770000},{"d":"2024-03-15","v":3820000},{"d":"2024-03-18","v":3910000},{"d":"2024-03-21","v":4010000},{"d":"2024-03-24","v":4020000},{"d":"2024-03-27","v":4000000},{"d":"2024-03-30","v":3960000},
        {"d":"2024-04-02","v":3950000},{"d":"2024-04-05","v":3930000},{"d":"2024-04-08","v":3970000},{"d":"2024-04-11","v":3930000},{"d":"2024-04-14","v":3950000},{"d":"2024-04-17","v":3940000},{"d":"2024-04-20","v":3960000},{"d":"2024-04-23","v":3940000},{"d":"2024-04-26","v":3910000},{"d":"2024-04-29","v":3880000},
        {"d":"2024-05-03","v":3840000},{"d":"2024-05-06","v":3820000},{"d":"2024-05-10","v":3790000},{"d":"2024-05-14","v":3770000},{"d":"2024-05-18","v":3730000},{"d":"2024-05-21","v":3700000},{"d":"2024-05-25","v":3680000},{"d":"2024-05-29","v":3650000},
        {"d":"2024-06-02","v":3680000},{"d":"2024-06-06","v":3700000},{"d":"2024-06-10","v":3760000},{"d":"2024-06-14","v":3850000},{"d":"2024-06-18","v":3880000},{"d":"2024-06-21","v":3910000},{"d":"2024-06-24","v":3930000},{"d":"2024-06-27","v":3960000},{"d":"2024-06-30","v":4020000},
        {"d":"2024-07-04","v":4050000},{"d":"2024-07-06","v":4020000},{"d":"2024-07-09","v":3990000},{"d":"2024-07-12","v":4000000},{"d":"2024-07-15","v":3960000},{"d":"2024-07-18","v":3950000},{"d":"2024-07-21","v":3960000},{"d":"2024-07-24","v":3950000},{"d":"2024-07-27","v":3930000},{"d":"2024-07-30","v":3930000},{"d":"2024-08-03","v":3880000},{"d":"2024-08-06","v":3910000}
      ]},
      "mark": {"type": "line", "strokeWidth": 2.2, "clip": true},
      "encoding": {
        "color": {
          "datum": "top50.pnl",
          "title": null,
          "scale": {"domain": ["btc_only_variable_gmv.pnl", "btc_only_fixed_gmv.pnl", "btc-eth.pnl", "top50.pnl"], "range": ["#F2541B", "#5E47A8", "#3B7DD8", "#6AA84F"]}
        }
      }
    }
  ]
}
